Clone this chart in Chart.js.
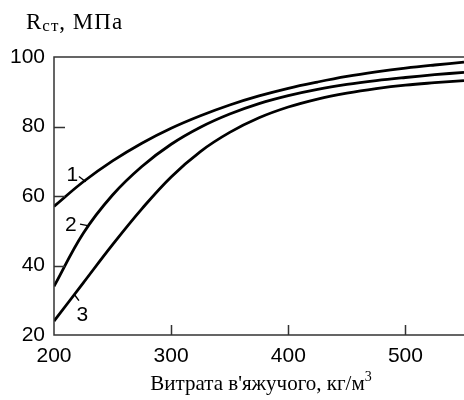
<!DOCTYPE html>
<html>
<head>
<meta charset="utf-8">
<script src="https://cdn.jsdelivr.net/npm/chart.js@4/dist/chart.umd.min.js"></script>
<style>
  html, body { margin: 0; padding: 0; background: #fff; }
  #wrap { position: relative; width: 464px; height: 400px; }
</style>
</head>
<body>
<div id="wrap"><canvas id="c" width="464" height="400"></canvas></div>
<script>
// Binder consumption, kg/m3
const binder = [200, 225, 250, 275, 300, 325, 350, 375, 400, 425, 450, 475, 500, 525, 550];
// Compressive strength, MPa, for curves 1..3
const curve1 = [57, 64.1, 70.1, 75.2, 79.5, 83.1, 86.2, 88.8, 91.0, 92.8, 94.4, 95.7, 96.8, 97.7, 98.5];
const curve2 = [34, 49.3, 60.3, 68.5, 74.9, 79.8, 83.6, 86.6, 88.9, 90.7, 92.1, 93.2, 94.1, 94.9, 95.6];
const curve3 = [24, 35, 46, 56.3, 65.5, 72.8, 78.3, 82.5, 85.6, 87.9, 89.6, 90.9, 91.9, 92.6, 93.2];
const curveNames = ['1', '2', '3'];
const xTicks = [200, 300, 400, 500];
const yTicks = [20, 40, 60, 80, 100];
// Curve number labels: text anchor and leader line ends, in data units
const labelAt = [
  { text: '1', x: 215.6, y: 66,   from: [221.3, 65.6], to: [227.1, 64.1] },
  { text: '2', x: 214.3, y: 51.7, from: [222.2, 51.9], to: [229.9, 51.4] },
  { text: '3', x: 224.2, y: 25.8, from: [217.7, 31.5], to: [221.3, 29.9] }
];

const SANS = "'Liberation Sans', Arial, sans-serif";
const SERIF = "'Liberation Serif', 'Times New Roman', serif";
const AXIS = '#333';

const series = [curve1, curve2, curve3].map((vals, i) => ({
  label: curveNames[i],
  data: binder.map((x, k) => ({ x, y: vals[k] })),
  borderColor: '#000',
  borderWidth: 2.8,
  pointRadius: 0,
  fill: false,
  tension: 0.4
}));

const decor = {
  id: 'decor',
  afterDraw(chart) {
    const { ctx, chartArea: a, scales: { x, y } } = chart;
    ctx.save();
    // frame: left, top, bottom
    ctx.strokeStyle = AXIS;
    ctx.lineWidth = 1.5;
    ctx.beginPath();
    ctx.moveTo(a.right + 2, a.top);
    ctx.lineTo(a.left, a.top);
    ctx.lineTo(a.left, a.bottom);
    ctx.lineTo(a.right + 2, a.bottom);
    ctx.stroke();
    // inward tick marks
    ctx.beginPath();
    yTicks.forEach(v => {
      if (v === y.min || v === y.max) return;
      const py = Math.round(y.getPixelForValue(v)) + 0.5;
      ctx.moveTo(a.left, py); ctx.lineTo(a.left + 11, py);
    });
    xTicks.forEach(v => {
      if (v === x.min) return;
      const px = Math.round(x.getPixelForValue(v)) + 0.5;
      ctx.moveTo(px, a.bottom); ctx.lineTo(px, a.bottom - 10);
    });
    ctx.stroke();
    // curve numbers with leader lines
    ctx.fillStyle = '#000';
    ctx.strokeStyle = '#000';
    ctx.lineWidth = 1.4;
    ctx.font = '21px ' + SANS;
    ctx.textAlign = 'center';
    ctx.textBaseline = 'middle';
    labelAt.forEach(l => {
      ctx.fillText(l.text, x.getPixelForValue(l.x), y.getPixelForValue(l.y));
      ctx.beginPath();
      ctx.moveTo(x.getPixelForValue(l.from[0]), y.getPixelForValue(l.from[1]));
      ctx.lineTo(x.getPixelForValue(l.to[0]), y.getPixelForValue(l.to[1]));
      ctx.stroke();
    });
    // y axis title with subscript
    ctx.textAlign = 'left';
    ctx.textBaseline = 'alphabetic';
    ctx.letterSpacing = '1px';
    let tx = 26;
    const base = 29;
    ctx.font = '23px ' + SERIF;
    ctx.fillText('R', tx, base);
    tx += ctx.measureText('R').width;
    ctx.font = '17px ' + SERIF;
    ctx.fillText('ст', tx, base + 2);
    tx += ctx.measureText('ст').width;
    ctx.font = '23px ' + SERIF;
    ctx.fillText(', МПа', tx, base);
    ctx.letterSpacing = '0px';
    // x axis title with superscript
    ctx.font = '21px ' + SERIF;
    const main = 'Витрата в\'яжучого, кг/м';
    const w = ctx.measureText(main).width;
    ctx.font = '14px ' + SERIF;
    const w3 = ctx.measureText('3').width;
    const cx = (a.left + a.right) / 2 + 2;
    const sx = cx - (w + w3) / 2;
    ctx.font = '21px ' + SERIF;
    ctx.fillText(main, sx, 390);
    ctx.font = '14px ' + SERIF;
    ctx.fillText('3', sx + w, 381);
    ctx.restore();
  }
};

new Chart(document.getElementById('c'), {
  type: 'line',
  data: { datasets: series },
  options: {
    responsive: false,
    animation: false,
    events: [],
    layout: { padding: { top: 57, right: 0, left: 0, bottom: 0 } },
    plugins: { legend: { display: false }, tooltip: { enabled: false }, title: { display: false } },
    scales: {
      x: {
        type: 'linear',
        min: 200, max: 550,
        afterFit(s) { s.height = 65; },
        afterBuildTicks(s) { s.ticks = xTicks.map(v => ({ value: v })); },
        grid: { display: false, drawTicks: false },
        border: { display: false },
        ticks: { color: '#000', font: { family: SANS, size: 21 }, padding: 9, maxRotation: 0, autoSkip: false }
      },
      y: {
        min: 20, max: 100,
        afterFit(s) { s.width = 54; },
        afterBuildTicks(s) { s.ticks = yTicks.map(v => ({ value: v })); },
        grid: { display: false, drawTicks: false },
        border: { display: false },
        ticks: { color: '#000', font: { family: SANS, size: 21 }, padding: 9, autoSkip: false }
      }
    }
  },
  plugins: [decor]
});
</script>
</body>
</html>
